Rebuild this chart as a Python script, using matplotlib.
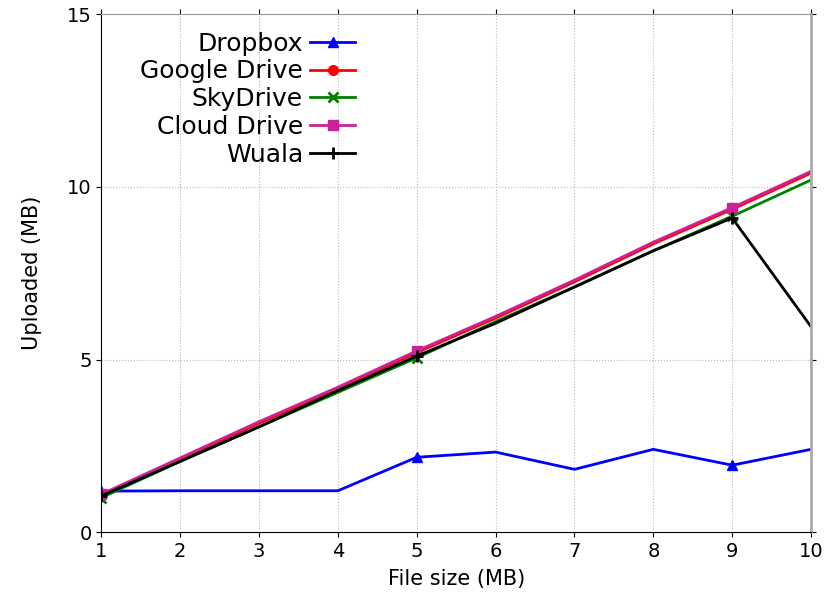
import matplotlib
matplotlib.use("Agg")
import matplotlib.pyplot as plt

sizes = [1, 2, 3, 4, 5, 6, 7, 8, 9, 10]

dropbox = [1.19, 1.2, 1.2, 1.2, 2.17, 2.32, 1.82, 2.4, 1.94, 2.4]
google_drive = [1.05, 2.1, 3.15, 4.15, 5.2, 6.2, 7.25, 8.35, 9.35, 10.4]
skydrive = [1.0, 2.05, 3.05, 4.05, 5.05, 6.1, 7.1, 8.15, 9.15, 10.2]
cloud_drive = [1.1, 2.15, 3.2, 4.2, 5.25, 6.25, 7.3, 8.4, 9.4, 10.45]
wuala = [1.05, 2.05, 3.05, 4.1, 5.1, 6.05, 7.1, 8.15, 9.1, 5.95]

fig = plt.figure(figsize=(8.37, 5.92), dpi=100)
ax = fig.add_axes([0.121, 0.101, 0.848, 0.875])

ax.plot(sizes, dropbox, color="blue", marker="^", lw=2, ms=7, markevery=4, label="Dropbox")
ax.plot(sizes, google_drive, color="red", marker="o", lw=2, ms=7, markevery=4, label="Google Drive")
ax.plot(sizes, skydrive, color="green", marker="x", lw=2, ms=7, mew=2, markevery=4, label="SkyDrive")
ax.plot(sizes, cloud_drive, color="#cc2299", marker="s", lw=2, ms=7, markevery=4, label="Cloud Drive")
ax.plot(sizes, wuala, color="black", marker="+", lw=2, ms=9, mew=2, markevery=4, label="Wuala")

ax.set_xlim(1, 10)
ax.set_ylim(0, 15)
ax.set_xticks(sizes)
ax.set_yticks([0, 5, 10, 15])
ax.grid(True, ls=":", color="#bbbbbb", lw=0.8)
ax.tick_params(labelsize=14, direction="out", top=True, right=True)
ax.spines["top"].set_color("#999999")
ax.spines["right"].set_color("#aaaaaa")
ax.spines["right"].set_linewidth(2)

ax.set_xlabel("File size (MB)", fontsize=15, labelpad=6)
ax.set_ylabel("Uploaded (MB)", fontsize=15, labelpad=18)

ax.legend(loc="upper left", bbox_to_anchor=(0.03, 1.0), frameon=False, markerfirst=False,
          fontsize=18, handlelength=1.8, handletextpad=0.3, labelspacing=0.15,
          borderaxespad=0.3)

fig.savefig("out.png", dpi=100)
